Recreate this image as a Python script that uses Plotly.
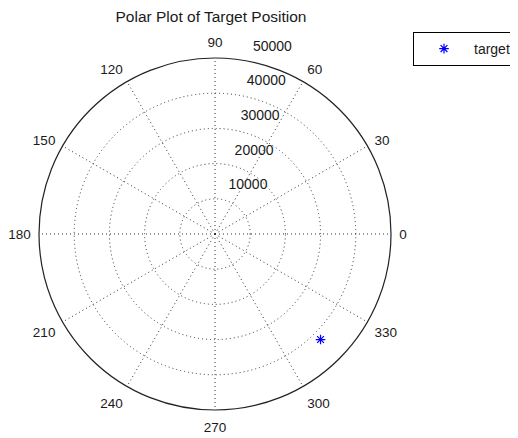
import plotly.graph_objects as go

# Data
target_r = [42400]
target_theta = [315]
radial_ticks = [10000, 20000, 30000, 40000, 50000]
angular_ticks = [0, 30, 60, 90, 120, 150, 180, 210, 240, 270, 300, 330]

W, H = 518, 438
OFF = 8  # browser body margin
cx, cy, R = 215 - OFF, 234 - OFF, 176

fig = go.Figure()
fig.add_trace(go.Scatterpolar(
    r=target_r, theta=target_theta, mode="markers", name="target",
    marker=dict(symbol="asterisk-open", size=8, color="blue",
                line=dict(color="blue", width=1.2)),
))

TXT = "#1a1a1a"
font = dict(family="Liberation Sans, Arial, sans-serif", size=14, color=TXT)

fig.update_layout(
    width=W, height=H,
    margin=dict(l=0, r=0, t=0, b=0),
    paper_bgcolor="white",
    font=font,
    title=dict(text="Polar Plot of Target Position", x=(211 - OFF) / W, xanchor="center",
               y=1 - 3 / H, yanchor="top", pad=dict(t=0, b=0, l=0, r=0),
               font=dict(size=15.5, color=TXT)),
    showlegend=True,
    legend=dict(x=(413 - OFF) / W, y=1 - (32 - OFF) / H, xanchor="left", yanchor="top",
                bordercolor="black", borderwidth=1, bgcolor="white", itemwidth=50,
                font=dict(size=14, color=TXT)),
    polar=dict(
        domain=dict(x=[(cx - R) / W, (cx + R) / W], y=[1 - (cy + R) / H, 1 - (cy - R) / H]),
        bgcolor="white",
        radialaxis=dict(range=[0, 50000], tickvals=radial_ticks,
                        ticktext=[str(v) + "<br> <br> " for v in radial_ticks],
                        angle=80, tickangle=80, side="clockwise",
                        showline=False, ticks="",
                        gridcolor="#333", griddash="1px,3px", gridwidth=1,
                        tickfont=dict(size=14, color=TXT)),
        angularaxis=dict(rotation=0, direction="counterclockwise",
                         tickvals=angular_ticks,
                         ticktext=[str(v) for v in angular_ticks],
                         ticks="outside", ticklen=5, tickcolor="rgba(0,0,0,0)",
                         showline=True, linecolor="#222", linewidth=1.2,
                         gridcolor="#333", griddash="1px,3px", gridwidth=1,
                         tickfont=dict(size=13.5, color=TXT)),
    ),
)

fig.write_html("out.html")
